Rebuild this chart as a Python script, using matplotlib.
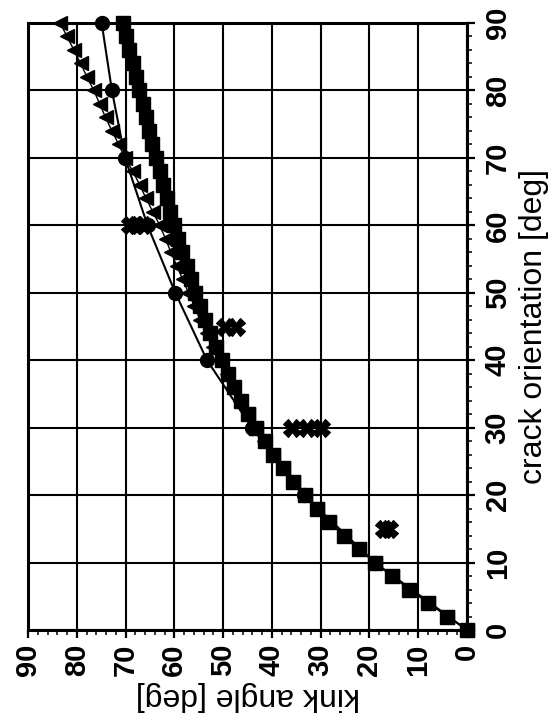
import matplotlib
matplotlib.use("Agg")
import matplotlib.pyplot as plt
from matplotlib.ticker import MultipleLocator

# ---- data ----
crack_fine = [0, 2, 4, 6, 8, 10, 12, 14, 16, 18, 20, 22, 24, 26, 28, 30, 32, 34,
              36, 38, 40, 42, 44, 46, 48, 50, 52, 54, 56, 58, 60, 62, 64, 66, 68,
              70, 72, 74, 76, 78, 80, 82, 84, 86, 88, 90]
kink_squares = [0.0, 4.0, 7.9, 11.8, 15.4, 18.9, 22.2, 25.3, 28.2, 30.8, 33.3,
                35.6, 37.7, 39.7, 41.5, 43.2, 44.8, 46.3, 47.7, 49.0, 50.3, 51.5,
                52.6, 53.7, 54.7, 55.7, 56.6, 57.5, 58.4, 59.2, 60.0, 60.8, 61.6,
                62.3, 63.0, 63.8, 64.5, 65.2, 65.9, 66.5, 67.2, 67.9, 68.5, 69.2,
                69.9, 70.5]
kink_triangles = [0.0, 4.0, 7.9, 11.8, 15.4, 18.9, 22.2, 25.3, 28.2, 30.8, 33.3,
                  35.6, 37.7, 39.8, 41.6, 43.3, 45.0, 46.5, 48.0, 49.3, 50.7, 52.1,
                  53.4, 54.7, 55.9, 57.1, 58.3, 59.5, 60.7, 61.8, 63.0, 64.4, 65.8,
                  67.1, 68.5, 70.1, 71.4, 72.8, 74.1, 75.3, 76.5, 77.9, 79.2, 80.6,
                  82.0, 83.4]
crack_circles = [0, 10, 20, 30, 40, 50, 60, 70, 80, 90]
kink_circles = [0.0, 18.9, 33.4, 44.1, 53.3, 59.8, 65.5, 70.1, 72.8, 74.9]
crack_exp = [15, 15, 30, 30, 30, 45, 45, 60, 60, 60]
kink_exp = [17.0, 16.0, 35.9, 32.8, 29.9, 49.6, 47.3, 69.1, 67.8, 66.4]

major_ticks = [0, 10, 20, 30, 40, 50, 60, 70, 80, 90]

plt.rcParams["font.family"] = ["Liberation Sans", "DejaVu Sans"]

fig = plt.figure(figsize=(5.55, 7.27), dpi=100)
ax = fig.add_axes([28 / 555, 97 / 727, 439 / 555, 607 / 727])

ax.plot(kink_circles, crack_circles, color="black", lw=1.5, marker="o",
        markersize=10, zorder=3, clip_on=False)
ax.plot(kink_triangles, crack_fine, color="black", lw=1.0, marker="<",
        markersize=10.5, zorder=4, clip_on=False)
ax.plot(kink_squares, crack_fine, color="black", lw=1.0, marker="s",
        markersize=10, zorder=5, clip_on=False)
ax.plot(kink_exp, crack_exp, linestyle="none", color="black", marker="X",
        markersize=12.5, markeredgewidth=0.8, zorder=6, clip_on=False)

ax.set_xlim(90, 0)
ax.set_ylim(0, 90)
ax.set_xticks(major_ticks)
ax.set_yticks(major_ticks)
ax.xaxis.set_minor_locator(MultipleLocator(2))
ax.yaxis.set_minor_locator(MultipleLocator(2))
ax.yaxis.tick_right()
ax.yaxis.set_label_position("right")

ax.grid(True, which="major", color="black", lw=1.5)
ax.set_axisbelow(True)
for s in ax.spines.values():
    s.set_linewidth(2.2)
    s.set_color("black")

ax.tick_params(which="major", direction="out", length=6, width=1.6,
               labelsize=21, colors="black")
ax.tick_params(which="minor", direction="out", length=3.5, width=1.1)
ax.tick_params(axis="x", labelrotation=90, pad=4)
ax.tick_params(axis="y", labelrotation=90, pad=6)
for lbl in ax.get_xticklabels() + ax.get_yticklabels():
    lbl.set_fontweight("bold")
for lbl in ax.get_yticklabels():
    lbl.set_va("center")

ax.set_xlabel("kink angle [deg]", fontsize=23, rotation=180, labelpad=3)
ax.set_ylabel("crack orientation [deg]", fontsize=23, rotation=90, labelpad=5)

fig.savefig("out.png", dpi=100, facecolor="white")
